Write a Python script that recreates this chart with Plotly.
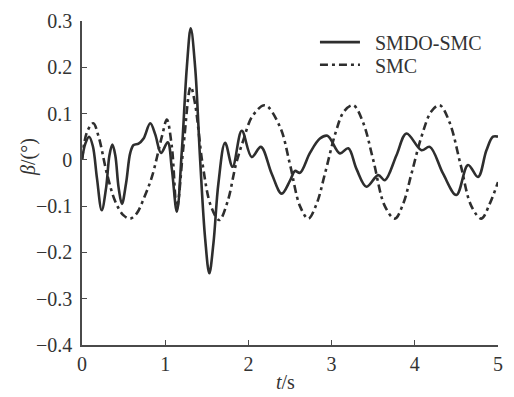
import plotly.graph_objects as go

# SMDO-SMC (solid)
t_smdo = [0.00, 0.04, 0.085, 0.13, 0.18, 0.237, 0.29, 0.33, 0.365, 0.40, 0.44, 0.48,
          0.53, 0.58, 0.62, 0.68, 0.74, 0.82, 0.88, 0.95, 1.03, 1.08, 1.14, 1.20,
          1.26, 1.307, 1.36, 1.42, 1.48, 1.53, 1.58, 1.64, 1.72, 1.81, 1.92, 2.04,
          2.15, 2.28, 2.40, 2.50, 2.56, 2.62, 2.74, 2.86, 2.95, 3.10, 3.20, 3.30,
          3.42, 3.56, 3.64, 3.78, 3.90, 4.08, 4.18, 4.34, 4.50, 4.64, 4.76, 4.86,
          4.94, 5.00]
beta_smdo = [0.000, 0.035, 0.050, 0.030, -0.040, -0.109, -0.060, 0.010, 0.033, 0.010,
             -0.060, -0.095, -0.050, 0.015, 0.032, 0.035, 0.046, 0.079, 0.055, 0.015,
             0.038, -0.020, -0.112, 0.020, 0.200, 0.284, 0.200, 0.000, -0.170, -0.245,
             -0.180, -0.050, 0.037, -0.015, 0.063, 0.006, 0.028, -0.030, -0.073, -0.045,
             -0.024, -0.028, 0.015, 0.046, 0.052, 0.014, 0.025, -0.020, -0.058, -0.033,
             -0.044, 0.010, 0.057, 0.021, 0.028, -0.030, -0.076, -0.011, -0.037, 0.020,
             0.050, 0.050]

# SMC (dash-dot)
t_smc = [0.00, 0.06, 0.135, 0.20, 0.30, 0.40, 0.50, 0.58, 0.66, 0.75, 0.84, 0.96,
         1.02, 1.08, 1.14, 1.22, 1.307, 1.36, 1.45, 1.55, 1.65, 1.75, 1.85, 1.94,
         2.05, 2.20, 2.38, 2.50, 2.62, 2.72, 2.82, 2.92, 3.05, 3.15, 3.26, 3.38,
         3.50, 3.64, 3.76, 3.86, 3.96, 4.08, 4.20, 4.30, 4.42, 4.55, 4.68, 4.80,
         4.90, 5.00]
beta_smc = [0.000, 0.060, 0.079, 0.050, -0.030, -0.090, -0.120, -0.127, -0.115, -0.080,
            -0.037, 0.050, 0.087, 0.028, -0.105, 0.030, 0.158, 0.120, -0.010, -0.100,
            -0.130, -0.090, -0.010, 0.043, 0.095, 0.118, 0.071, -0.010, -0.100, -0.127,
            -0.095, -0.030, 0.060, 0.105, 0.118, 0.080, 0.000, -0.100, -0.127, -0.095,
            -0.030, 0.050, 0.105, 0.118, 0.080, -0.010, -0.100, -0.127, -0.095, -0.048]

x_ticks = [0, 1, 2, 3, 4, 5]
x_ticktext = ["0", "1", "2", "3", "4", "5"]
y_ticks = [-0.4, -0.3, -0.2, -0.1, 0, 0.1, 0.2, 0.3]
y_ticktext = ["\u22120.4", "\u22120.3", "\u22120.2", "\u22120.1", "0", "0.1", "0.2", "0.3"]
x_title = "<i>t</i>/s"
y_title = "<i>β</i>/(°)"

FONT = "Liberation Serif"
TEXT_COLOR = "#333333"
LINE_COLOR = "#2e2e2e"
AXIS_COLOR = "#4a4a4a"
GAP = "\u00a0\u00a0"

fig = go.Figure()
fig.add_trace(go.Scatter(x=t_smdo, y=beta_smdo, mode="lines", name=GAP + "SMDO-SMC",
                         legend="legend",
                         line=dict(color=LINE_COLOR, width=2.6, shape="spline", smoothing=1.0)))
fig.add_trace(go.Scatter(x=t_smc, y=beta_smc, mode="lines", name=GAP + "SMC",
                         legend="legend2",
                         line=dict(color=LINE_COLOR, width=2.6, dash="8px,4px,3px,4px",
                                   shape="spline", smoothing=1.0)))

legend_common = dict(xanchor="left", yanchor="top", bgcolor="rgba(0,0,0,0)",
                     font=dict(family=FONT, size=20, color=TEXT_COLOR), itemwidth=40)

fig.update_layout(
    width=514, height=397,
    margin=dict(l=82, r=16, t=21, b=52),
    paper_bgcolor="white", plot_bgcolor="white",
    font=dict(family=FONT, size=20, color=TEXT_COLOR),
    showlegend=True,
    legend=dict(x=0.56, y=0.995, **legend_common),
    legend2=dict(x=0.56, y=0.925, **legend_common),
    xaxis=dict(range=[0, 5], tickvals=x_ticks, ticktext=x_ticktext, automargin=False,
               showgrid=False, zeroline=False, showline=True, linecolor=AXIS_COLOR,
               linewidth=1.6, ticks="inside", ticklen=5, tickwidth=1.4, tickcolor=AXIS_COLOR),
    yaxis=dict(range=[-0.4, 0.3], tickvals=y_ticks, ticktext=y_ticktext, automargin=False,
               showgrid=False, zeroline=False, showline=True, linecolor=AXIS_COLOR,
               linewidth=1.6, ticks="inside", ticklen=5, tickwidth=1.4, tickcolor=AXIS_COLOR,
               ticklabelstandoff=4),
    annotations=[
        dict(text=x_title, xref="paper", yref="paper", x=0.488, y=-0.115,
             xanchor="center", yanchor="middle", showarrow=False,
             font=dict(family=FONT, size=20, color=TEXT_COLOR)),
        dict(text=y_title, xref="paper", yref="paper", x=-0.13, y=0.58,
             xanchor="center", yanchor="middle", showarrow=False, textangle=-90,
             font=dict(family=FONT, size=20, color=TEXT_COLOR)),
    ],
)

fig.write_html("out.html", config={"displayModeBar": False},
               post_script="document.body.style.margin='0';")
